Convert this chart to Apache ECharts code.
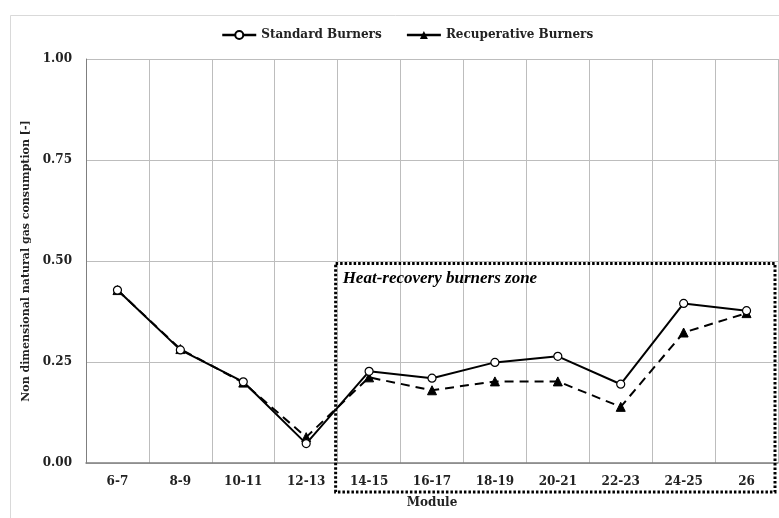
<!DOCTYPE html>
<html>
<head>
<meta charset="utf-8">
<script src="https://cdn.jsdelivr.net/npm/echarts@6/dist/echarts.min.js"></script>
<style>
  html, body { margin: 0; padding: 0; background: #fff; }
  #chart { width: 779px; height: 518px; }
</style>
</head>
<body>
<div id="chart"></div>
<script>
const modules = ['6-7', '8-9', '10-11', '12-13', '14-15', '16-17', '18-19', '20-21', '22-23', '24-25', '26'];
const standardBurners = [0.428, 0.28, 0.201, 0.048, 0.227, 0.21, 0.249, 0.264, 0.195, 0.395, 0.377];
const recuperativeBurners = [0.428, 0.282, 0.199, 0.064, 0.212, 0.18, 0.202, 0.202, 0.139, 0.323, 0.371];
const yTicks = [0, 0.25, 0.5, 0.75, 1];

const font = 'DejaVu Serif';
const chart = echarts.init(document.getElementById('chart'));

const option = {
  animation: false,
  backgroundColor: '#fff',
  legend: {
    top: 24,
    left: 216,
    itemWidth: 34,
    itemHeight: 10,
    itemGap: 24,
    lineStyle: { type: 'solid', width: 2.5 },
    textStyle: { fontFamily: font, fontWeight: 'bold', fontSize: 12, color: '#222' },
    data: ['Standard Burners', 'Recuperative Burners']
  },
  grid: { left: 86, right: 1, top: 59, bottom: 55 },
  xAxis: {
    type: 'category',
    data: modules,
    boundaryGap: true,
    name: 'Module',
    nameLocation: 'middle',
    nameGap: 34,
    nameTextStyle: { fontFamily: font, fontWeight: 'bold', fontSize: 12, color: '#222' },
    axisLine: { lineStyle: { color: '#7f7f7f', width: 1.5 } },
    axisTick: { show: false },
    axisLabel: { margin: 13, fontFamily: font, fontWeight: 'bold', fontSize: 12, color: '#222' },
    splitLine: { show: true, interval: 0, lineStyle: { color: '#bdbdbd', width: 1 } }
  },
  yAxis: {
    type: 'value',
    min: yTicks[0],
    max: yTicks[yTicks.length - 1],
    interval: 0.25,
    name: 'Non dimensional natural gas consumption [-]',
    nameLocation: 'middle',
    nameGap: 47,
    nameTextStyle: { fontFamily: font, fontWeight: 'bold', fontSize: 11, color: '#222' },
    axisLine: { show: true, lineStyle: { color: '#7f7f7f', width: 1 } },
    axisTick: { show: false },
    axisLabel: {
      margin: 14,
      fontFamily: font, fontWeight: 'bold', fontSize: 12, color: '#222',
      formatter: v => v.toFixed(2)
    },
    splitLine: { lineStyle: { color: '#bdbdbd', width: 1 } }
  },
  series: [
    {
      name: 'Standard Burners',
      type: 'line',
      data: standardBurners,
      symbol: 'circle',
      symbolSize: 8,
      z: 3,
      itemStyle: { color: '#fff', borderColor: '#000', borderWidth: 1.2 },
      lineStyle: { color: '#000', width: 2 }
    },
    {
      name: 'Recuperative Burners',
      type: 'line',
      data: recuperativeBurners,
      symbol: 'triangle',
      symbolSize: 9,
      z: 2,
      itemStyle: { color: '#000', borderColor: '#000' },
      lineStyle: { color: '#000', width: 2, type: [9, 6] }
    }
  ]
};
chart.setOption(option);

// annotation box for the heat-recovery zone, placed from the axis scales
const leftPx = (chart.convertToPixel({ xAxisIndex: 0 }, 3) + chart.convertToPixel({ xAxisIndex: 0 }, 4)) / 2 - 2;
const topPx = chart.convertToPixel({ yAxisIndex: 0 }, 0.494);
const rightPx = 775;
const bottomPx = 492;

chart.setOption({
  graphic: [
    {
      type: 'rect',
      left: 8, top: 13, silent: true, z: -1,
      shape: { x: 0, y: 0, width: 800, height: 600 },
      style: { fill: 'none', stroke: '#d9d9d9', lineWidth: 1 }
    },
    {
      type: 'rect',
      silent: true, z: 10,
      shape: { x: leftPx, y: topPx, width: rightPx - leftPx, height: bottomPx - topPx },
      style: { fill: 'none', stroke: '#000', lineWidth: 3, lineDash: [2.5, 2] }
    },
    {
      type: 'text',
      silent: true, z: 11,
      x: leftPx + 7, y: topPx + 7,
      style: {
        text: 'Heat-recovery burners zone',
        font: 'italic bold 17px "Liberation Serif"',
        fill: '#000'
      }
    }
  ]
});
</script>
</body>
</html>
